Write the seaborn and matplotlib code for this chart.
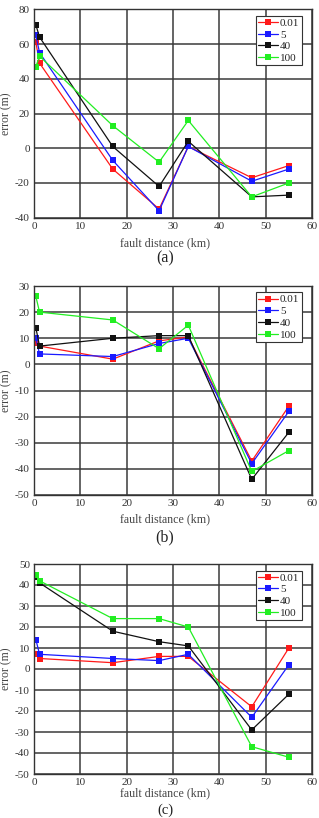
import numpy as np
import pandas as pd
import matplotlib
matplotlib.use("Agg")
import matplotlib.pyplot as plt
import seaborn as sns

# ---------------- data ----------------
distance = [0.4, 1.2, 17, 27, 33.3, 47, 55]
series_names = ["0.01", "5", "40", "100"]

a_001 = [61, 49, -12, -35, 1, -17, -10]
a_5 = [65, 55, -7, -36, 1, -19, -12]
a_40 = [71, 64, 1, -22, 4, -28, -27]
a_100 = [47, 53, 13, -8, 16, -28, -20]

b_001 = [8, 7, 2, 9, 10.5, -37, -16]
b_5 = [10, 4, 3, 8, 10, -38, -18]
b_40 = [14, 7, 10, 11, 11, -44, -26]
b_100 = [26, 20, 17, 6, 15, -41, -33]

c_001 = [7, 5, 3, 6, 6, -18, 10]
c_5 = [14, 7, 5, 4, 7, -23, 2]
c_40 = [44, 41, 18, 13, 11, -29, -12]
c_100 = [45, 42, 24, 24, 20, -37, -42]

panels = [
    ("(a)", [a_001, a_5, a_40, a_100], (-40, 80), 20),
    ("(b)", [b_001, b_5, b_40, b_100], (-50, 30), 10),
    ("(c)", [c_001, c_5, c_40, c_100], (-50, 50), 10),
]
colors = ["#ff1a1a", "#1a1aff", "#111111", "#22ee22"]

# ---------------- style ----------------
sns.set_style("white")
plt.rcParams["font.family"] = ["Liberation Serif", "DejaVu Serif"]
plt.rcParams["axes.unicode_minus"] = False

W, H = 319, 818
fig = plt.figure(figsize=(W / 100, H / 100), dpi=100)

# (top px, bottom px) for each axes
boxes = [(9.3, 217.7), (286, 495), (564, 774)]
caption_y = [258, 537, 810]
caption_fs = [11.5, 11.5, 10.5]
xlabel_y = [243, 519, 793]
left, right = 34, 312

for (cap, vals, ylim, ystep), (top, bot), cy, cfs, xy in zip(panels, boxes, caption_y, caption_fs, xlabel_y):
    ax = fig.add_axes([left / W, 1 - bot / H, (right - left) / W, (bot - top) / H])
    rows = []
    for name, v in zip(series_names, vals):
        for d, e in zip(distance, v):
            rows.append({"distance": d, "error": e, "series": name})
    df = pd.DataFrame(rows)
    sns.lineplot(data=df, x="distance", y="error", hue="series",
                 hue_order=series_names, palette=colors, marker="s",
                 markersize=4, markeredgewidth=0, linewidth=0.9,
                 sort=False, estimator=None, ax=ax)
    ax.set_xlim(0, 60)
    ax.set_ylim(*ylim)
    ax.set_xticks(np.arange(0, 61, 10))
    ax.set_yticks(np.arange(ylim[0], ylim[1] + 1, ystep))
    ax.grid(True, color="#3a3a3a", linewidth=1.1)
    ax.set_axisbelow(True)
    for s in ax.spines.values():
        s.set_color("#333333")
        s.set_linewidth(1.0)
    ax.tick_params(axis="both", length=0, labelsize=8, colors="#333333", pad=3)
    ax.set_xlabel("")
    ax.set_ylabel("error (m)", fontsize=8.5, color="#444444", labelpad=2)
    fig.text(165 / W, 1 - xy / H, "fault distance (km)", ha="center", va="center",
             fontsize=8.6, color="#444444")
    fig.text(165 / W, 1 - cy / H, cap, ha="center", va="center",
             fontsize=cfs, color="#222222")
    leg = ax.legend(loc="upper right", bbox_to_anchor=(0.963, 0.969),
                    fontsize=8, frameon=True, fancybox=False,
                    handlelength=1.8, handletextpad=0.2, borderpad=0.2,
                    labelspacing=0.18, borderaxespad=0.0)
    leg.get_frame().set_edgecolor("#333333")
    leg.get_frame().set_linewidth(0.8)
    leg.get_frame().set_alpha(1)

fig.savefig("out.png", dpi=100)
